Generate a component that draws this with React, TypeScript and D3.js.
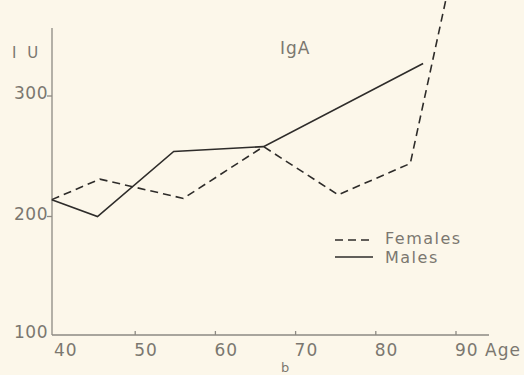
import React from "react";
import * as d3 from "d3";

const maleAges = [39.6, 45.3, 54.8, 66, 85.9];
const maleValues = [214, 200, 254, 258, 327];
const femaleAges = [39.6, 45.6, 56, 66, 75.3, 84.3, 89];
const femaleValues = [214, 231, 215, 258, 218, 244, 388];
const xTicks = [40, 50, 60, 70, 80, 90];
const xTickLabels = ["40", "50", "60", "70", "80", "90 Age"];
const yTicks = [100, 200, 300];
const yTickLabels = ["100", "200", "300"];
const legendLabels = ["Females", "Males"];

const W = 524;
const H = 375;

export default function App() {
  const x = d3.scaleLinear().domain([40, 90]).range([55, 456]);
  const y = d3.scaleLinear().domain([100, 300]).range([337, 96]);
  const line = d3
    .line<[number, number]>()
    .x((d) => x(d[0]))
    .y((d) => y(d[1]));
  const males = maleAges.map((a, i) => [a, maleValues[i]] as [number, number]);
  const females = femaleAges.map((a, i) => [a, femaleValues[i]] as [number, number]);
  const textFill = "#7b7770";
  const axisColor = "#8d8a83";
  const font = "DejaVu Sans";
  const x0 = 52;
  const yBase = 335;
  return (
    <svg
      width={W}
      height={H}
      style={{ position: "absolute", left: 0, top: 0, background: "#fcf7ea" }}
    >
      <rect x={0} y={0} width={W} height={H} fill="#fcf7ea" />
      {/* axes */}
      <line x1={x0} y1={28} x2={x0} y2={yBase} stroke={axisColor} strokeWidth={1.3} />
      <line x1={x0} y1={yBase} x2={489} y2={yBase} stroke={axisColor} strokeWidth={1.3} />
      {yTicks.map((t, i) => (
        <g key={t}>
          {t !== 100 && (
            <line x1={x0 - 5} x2={x0} y1={y(t)} y2={y(t)} stroke={axisColor} strokeWidth={1.3} />
          )}
          <text
            x={48}
            y={t === 100 ? 338 : y(t) + 3}
            textAnchor="end"
            fontFamily={font}
            fontSize={17}
            letterSpacing={0.5}
            fill={textFill}
          >
            {yTickLabels[i]}
          </text>
        </g>
      ))}
      {xTicks.map((t, i) => (
        <g key={t}>
          {t !== 40 && (
            <line x1={x(t)} x2={x(t)} y1={yBase} y2={yBase - 4} stroke={axisColor} strokeWidth={1.3} />
          )}
          <text
            x={x(t) - 1}
            y={356}
            fontFamily={font}
            fontSize={17}
            letterSpacing={1}
            fill={textFill}
          >
            {xTickLabels[i]}
          </text>
        </g>
      ))}
      <text x={12} y={58} fontFamily={font} fontSize={15} fill={textFill} letterSpacing={3}>
        I U
      </text>
      <text x={280} y={54} fontFamily={font} fontSize={17} fill={textFill} letterSpacing={1}>
        IgA
      </text>
      <text x={281} y={372} fontFamily={font} fontSize={13} fill={textFill}>
        b
      </text>
      {/* series */}
      <path
        d={line(females) || ""}
        fill="none"
        stroke="#2e2c2a"
        strokeWidth={1.6}
        strokeDasharray="8,5"
      />
      <path d={line(males) || ""} fill="none" stroke="#2e2c2a" strokeWidth={1.6} />
      {/* legend */}
      <line x1={335} x2={373} y1={240} y2={240} stroke="#2e2c2a" strokeWidth={1.6} strokeDasharray="8,5" />
      <line x1={335} x2={373} y1={257} y2={257} stroke="#2e2c2a" strokeWidth={1.6} />
      <text x={385} y={244} fontFamily={font} fontSize={16} letterSpacing={1.5} fill={textFill}>
        {legendLabels[0]}
      </text>
      <text x={385} y={263} fontFamily={font} fontSize={16} letterSpacing={1.5} fill={textFill}>
        {legendLabels[1]}
      </text>
    </svg>
  );
}
